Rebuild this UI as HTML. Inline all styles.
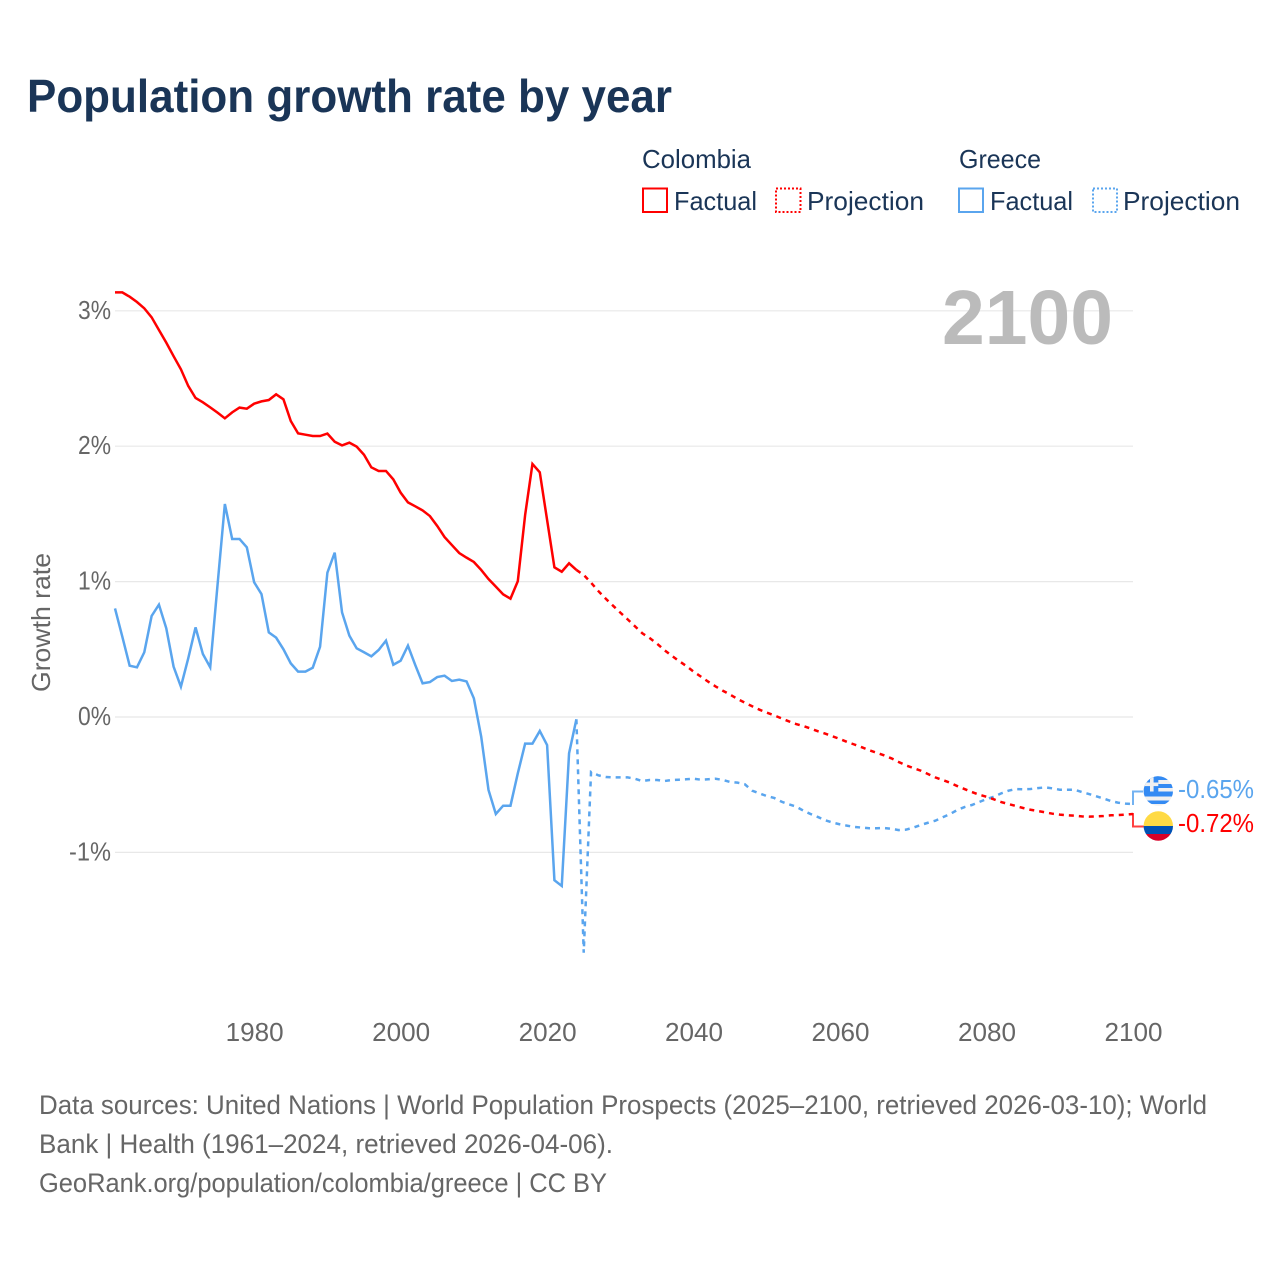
<!DOCTYPE html>
<html lang="en">
<head>
<meta charset="utf-8">
<title>Population growth rate by year</title>
<style>
  html, body { margin: 0; padding: 0; background: #fff; }
  svg { display: block; font-family: "Liberation Sans", Arial, sans-serif; }
</style>
</head>
<body>
<svg id="chart" xmlns="http://www.w3.org/2000/svg" width="1280" height="1280" viewBox="0 0 1280 1280">
  <defs>
    <clipPath id="clip-gr"><circle cx="1158.3" cy="791" r="14.7"/></clipPath>
    <clipPath id="clip-co"><circle cx="1158.3" cy="826" r="14.7"/></clipPath>
  </defs>
  <rect width="1280" height="1280" fill="#fff"/>

  <text x="27" y="112" font-size="46" font-weight="700" fill="#1a3557" textLength="645" lengthAdjust="spacingAndGlyphs">Population growth rate by year</text>

  <g font-size="26" fill="#1a3557">
    <text x="642" y="168" textLength="109" lengthAdjust="spacingAndGlyphs">Colombia</text>
    <text x="959" y="168" textLength="82" lengthAdjust="spacingAndGlyphs">Greece</text>

    <rect x="643" y="188.5" width="24" height="23.5" fill="none" stroke="#ff0000" stroke-width="2"/>
    <text x="674" y="210" textLength="83" lengthAdjust="spacingAndGlyphs">Factual</text>
    <rect x="776" y="188.5" width="24.5" height="23.5" fill="none" stroke="#ff0000" stroke-width="2" stroke-dasharray="2 2"/>
    <text x="807" y="210" textLength="117" lengthAdjust="spacingAndGlyphs">Projection</text>

    <rect x="959" y="188.5" width="24" height="23.5" fill="none" stroke="#5aa5ee" stroke-width="2"/>
    <text x="990" y="210" textLength="83" lengthAdjust="spacingAndGlyphs">Factual</text>
    <rect x="1093" y="188.5" width="24" height="23.5" fill="none" stroke="#5aa5ee" stroke-width="2" stroke-dasharray="2 2"/>
    <text x="1123" y="210" textLength="117" lengthAdjust="spacingAndGlyphs">Projection</text>
  </g>

  <g id="grid"></g>
  <g id="yticks" font-size="26" fill="#666666" text-anchor="end"></g>
  <g id="xticks" font-size="26" fill="#666666" text-anchor="middle"></g>

  <text transform="translate(50,692) rotate(-90)" font-size="26" fill="#666666" textLength="139" lengthAdjust="spacingAndGlyphs">Growth rate</text>

  <text x="942" y="344" font-size="77" font-weight="700" fill="#bbbbbb" textLength="171" lengthAdjust="spacingAndGlyphs">2100</text>

  <g id="series"></g>

  <g>
    <path id="conn-gr" fill="none" stroke="#5aa5ee" stroke-opacity="0.85" stroke-width="2"/>
    <g clip-path="url(#clip-gr)">
      <rect x="1143" y="776" width="31" height="31" fill="#f0f0f0"/>
      <rect x="1143" y="776" width="31" height="4" fill="#338af3"/>
      <rect x="1158" y="784" width="16" height="4" fill="#338af3"/>
      <rect x="1143" y="791.5" width="31" height="5" fill="#338af3"/>
      <rect x="1143" y="800.5" width="31" height="3.5" fill="#338af3"/>
      <rect x="1143" y="776" width="15.3" height="15.5" fill="#338af3"/>
      <rect x="1150" y="776" width="3.6" height="15.5" fill="#f0f0f0"/>
      <rect x="1143" y="782.5" width="15.3" height="3.6" fill="#f0f0f0"/>
    </g>
    <text id="label-gr" x="1178" y="798" font-size="26" fill="#5aa5ee" textLength="76" lengthAdjust="spacingAndGlyphs">-0.65%</text>
  </g>
  <g>
    <path id="conn-co" fill="none" stroke="#ff0000" stroke-opacity="0.75" stroke-width="2"/>
    <g clip-path="url(#clip-co)">
      <rect x="1143" y="811" width="31" height="16" fill="#ffda44"/>
      <rect x="1143" y="826" width="31" height="8" fill="#0052b4"/>
      <rect x="1143" y="834" width="31" height="8" fill="#d80027"/>
    </g>
    <text id="label-co" x="1178" y="832" font-size="26" fill="#ff0000" textLength="76" lengthAdjust="spacingAndGlyphs">-0.72%</text>
  </g>

  <g font-size="27" fill="#666666">
    <text x="39" y="1114" textLength="1168" lengthAdjust="spacingAndGlyphs">Data sources: United Nations | World Population Prospects (2025–2100, retrieved 2026-03-10); World</text>
    <text x="39" y="1153" textLength="574" lengthAdjust="spacingAndGlyphs">Bank | Health (1961–2024, retrieved 2026-04-06).</text>
    <text x="39" y="1192" textLength="568" lengthAdjust="spacingAndGlyphs">GeoRank.org/population/colombia/greece | CC BY</text>
  </g>
</svg>
<script>
const startYear = 1961;
const endYear = 2100;
const factualEndYear = 2024;
const yTickValues = [3, 2, 1, 0, -1];
const xTickValues = [1980, 2000, 2020, 2040, 2060, 2080, 2100];

const colombiaFactual = [3.136,3.136,3.104,3.065,3.018,2.952,2.858,2.765,2.665,2.568,2.445,2.356,2.324,2.287,2.248,2.206,2.250,2.285,2.277,2.314,2.331,2.341,2.383,2.346,2.186,2.095,2.085,2.075,2.075,2.093,2.033,2.006,2.026,1.997,1.937,1.844,1.817,1.817,1.755,1.657,1.585,1.556,1.526,1.484,1.411,1.329,1.270,1.211,1.177,1.145,1.086,1.019,0.963,0.906,0.874,1.003,1.492,1.869,1.807,1.455,1.105,1.073,1.135,1.086];
const colombiaProjection = [1.049,0.992,0.930,0.874,0.822,0.771,0.721,0.670,0.618,0.583,0.542,0.495,0.453,0.414,0.377,0.335,0.298,0.261,0.226,0.194,0.165,0.133,0.106,0.079,0.054,0.032,0.012,-0.010,-0.032,-0.052,-0.067,-0.086,-0.106,-0.123,-0.143,-0.163,-0.185,-0.204,-0.224,-0.246,-0.264,-0.283,-0.305,-0.332,-0.357,-0.377,-0.396,-0.421,-0.446,-0.465,-0.485,-0.510,-0.532,-0.554,-0.574,-0.589,-0.608,-0.628,-0.643,-0.657,-0.672,-0.685,-0.694,-0.704,-0.714,-0.721,-0.726,-0.729,-0.734,-0.736,-0.734,-0.731,-0.726,-0.724,-0.721,-0.716];
const greeceFactual = [0.802,0.593,0.379,0.367,0.478,0.746,0.830,0.655,0.372,0.224,0.433,0.662,0.465,0.367,0.975,1.573,1.315,1.315,1.253,0.995,0.908,0.625,0.586,0.500,0.396,0.335,0.335,0.364,0.519,1.066,1.214,0.773,0.601,0.507,0.478,0.448,0.495,0.564,0.386,0.416,0.527,0.384,0.249,0.258,0.295,0.305,0.266,0.276,0.263,0.138,-0.145,-0.539,-0.716,-0.655,-0.655,-0.416,-0.197,-0.197,-0.103,-0.207,-1.206,-1.248,-0.268,-0.017];
const greeceProjection = [-1.741,-0.406,-0.431,-0.443,-0.446,-0.446,-0.446,-0.456,-0.473,-0.465,-0.465,-0.473,-0.465,-0.463,-0.460,-0.456,-0.463,-0.460,-0.456,-0.465,-0.480,-0.485,-0.497,-0.544,-0.564,-0.584,-0.598,-0.625,-0.645,-0.662,-0.692,-0.717,-0.739,-0.763,-0.780,-0.793,-0.803,-0.812,-0.817,-0.822,-0.822,-0.820,-0.825,-0.835,-0.832,-0.817,-0.798,-0.781,-0.766,-0.741,-0.717,-0.687,-0.665,-0.650,-0.628,-0.606,-0.589,-0.564,-0.544,-0.532,-0.534,-0.532,-0.525,-0.520,-0.527,-0.537,-0.537,-0.537,-0.554,-0.569,-0.586,-0.603,-0.621,-0.633,-0.640,-0.643];

const NS = 'http://www.w3.org/2000/svg';
const plotLeft = 115, plotRight = 1133;
function xScale(year) { return plotLeft + (year - startYear) * (plotRight - plotLeft) / (endYear - startYear); }
function yScale(value) { return 717 - value * 135.4; }
function pathFrom(first, values) {
  return values.map(function (v, i) {
    return (i ? 'L' : 'M') + xScale(first + i).toFixed(2) + ' ' + yScale(v).toFixed(2);
  }).join(' ');
}

const grid = document.getElementById('grid');
const yticks = document.getElementById('yticks');
yTickValues.forEach(function (v) {
  const line = document.createElementNS(NS, 'line');
  
  
  line.setAttribute('x1', plotLeft);
  line.setAttribute('x2', plotRight);
  line.setAttribute('y1', yScale(v));
  line.setAttribute('y2', yScale(v));
  line.setAttribute('stroke', '#e8e8e8');
  line.setAttribute('stroke-width', '1.2');
  grid.appendChild(line);
  const t = document.createElementNS(NS, 'text');
  
  
  t.setAttribute('x', 111);
  t.setAttribute('y', yScale(v) + 8);
  t.setAttribute('textLength', v < 0 ? 42 : 33);
  t.setAttribute('lengthAdjust', 'spacingAndGlyphs');
  t.textContent = v + '%';
  yticks.appendChild(t);
});

const xticks = document.getElementById('xticks');
xTickValues.forEach(function (yr) {
  const t = document.createElementNS(NS, 'text');
  
  
  t.setAttribute('x', xScale(yr) + 0.5);
  t.setAttribute('y', 1041);
  t.setAttribute('textLength', 58);
  t.setAttribute('lengthAdjust', 'spacingAndGlyphs');
  t.textContent = String(yr);
  xticks.appendChild(t);
});

const series = document.getElementById('series');
function addLine(name, first, values, color, dashed) {
  const p = document.createElementNS(NS, 'path');
  
  
  p.setAttribute('d', pathFrom(first, values));
  p.setAttribute('fill', 'none');
  p.setAttribute('stroke', color);
  p.setAttribute('stroke-width', '2.5');
  p.setAttribute('stroke-linejoin', 'miter');
  if (dashed) p.setAttribute('stroke-dasharray', '5 5');
  series.appendChild(p);
}
const lastGR = greeceFactual[greeceFactual.length - 1];
const lastCO = colombiaFactual[colombiaFactual.length - 1];
addLine('greece-projection-line', factualEndYear, [lastGR].concat(greeceProjection), '#5aa5ee', true);
addLine('greece-factual-line', startYear, greeceFactual, '#5aa5ee', false);
addLine('colombia-projection-line', factualEndYear, [lastCO].concat(colombiaProjection), '#ff0000', true);
addLine('colombia-factual-line', startYear, colombiaFactual, '#ff0000', false);

const endGR = yScale(greeceProjection[greeceProjection.length - 1]);
const endCO = yScale(colombiaProjection[colombiaProjection.length - 1]);
document.getElementById('conn-gr').setAttribute('d', 'M' + (plotRight - 1) + ' ' + endGR + ' L' + (plotRight) + ' ' + endGR + ' L' + (plotRight) + ' 791.5 L1143 791.5');
document.getElementById('conn-co').setAttribute('d', 'M' + (plotRight - 1) + ' ' + endCO + ' L' + (plotRight) + ' ' + endCO + ' L' + (plotRight) + ' 826.5 L1144 826.5');
</script>
</body>
</html>
